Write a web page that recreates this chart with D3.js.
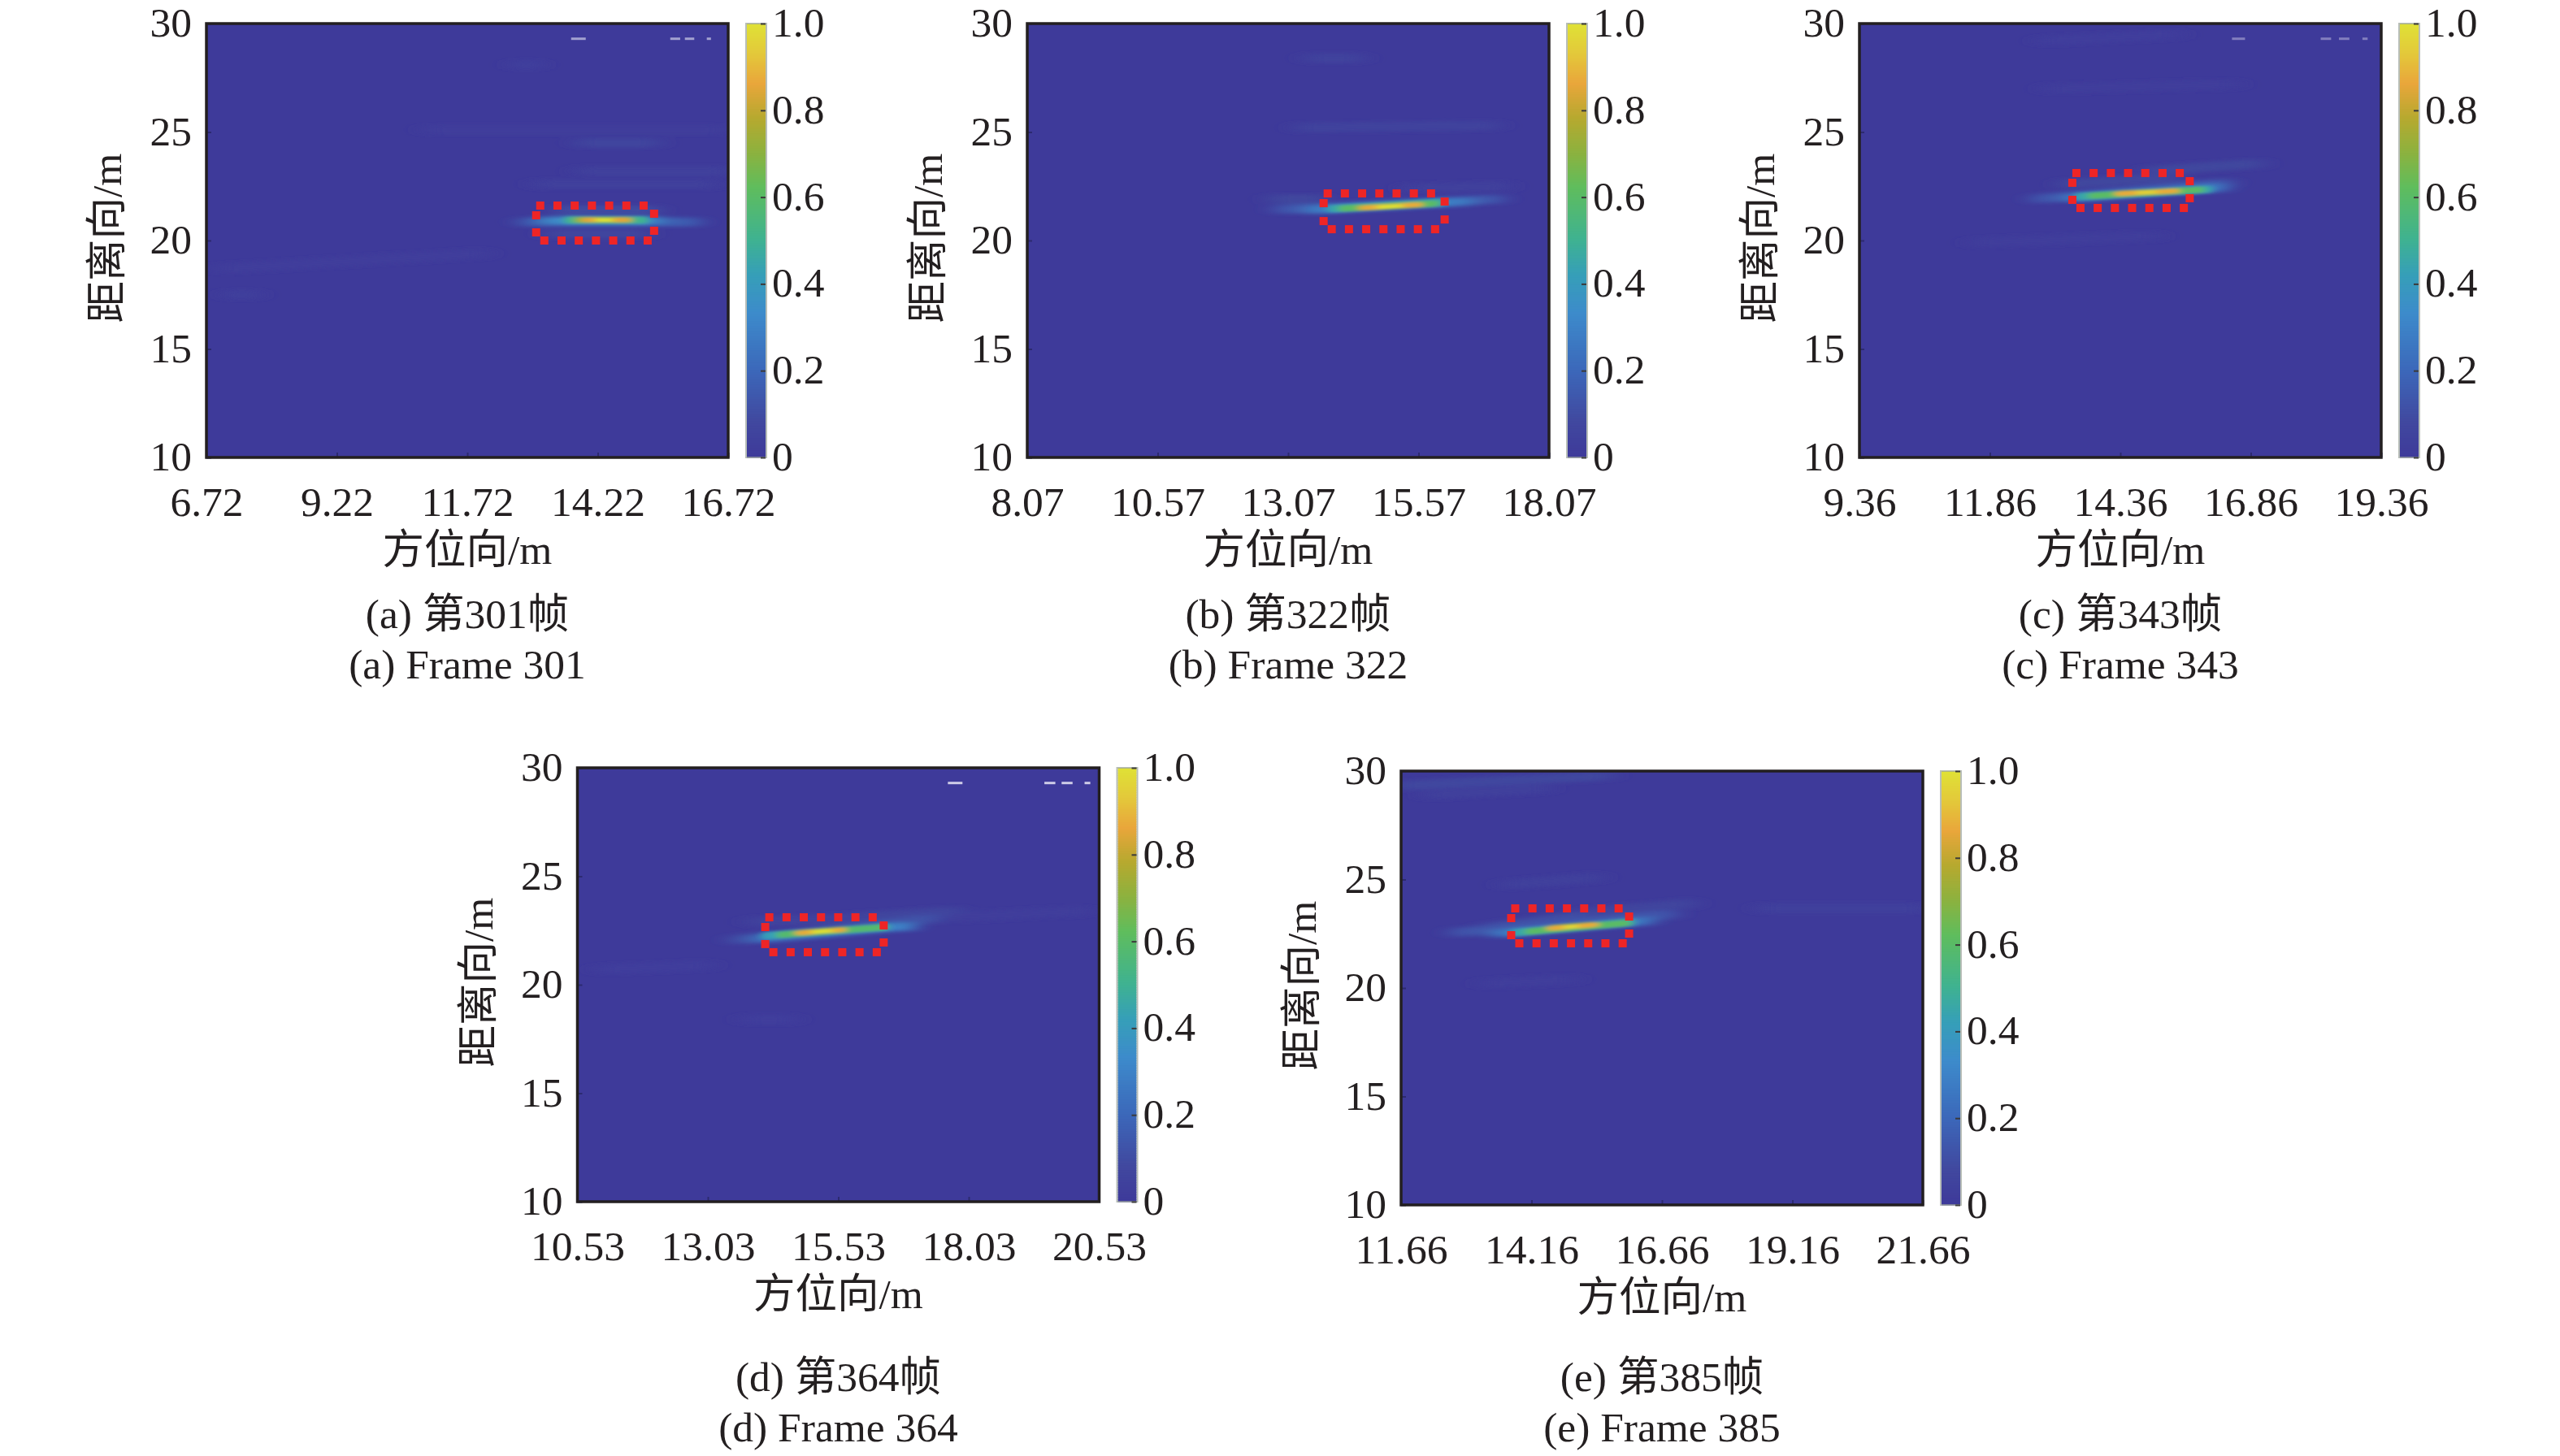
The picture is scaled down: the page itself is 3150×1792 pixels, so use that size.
<!DOCTYPE html>
<html>
<head>
<meta charset="utf-8">
<script src="https://d3js.org/d3.v7.min.js"></script>
<style>
  html, body { margin: 0; background: #fff; }
  text { font-family: "Liberation Serif", "Noto Sans CJK SC", serif; fill: #231f20; }
</style>
</head>
<body>
<div class="map"></div>
<script>
// tick labels of the azimuth axis, one list per frame
const azTicksA = [6.72, 9.22, 11.72, 14.22, 16.72];
const azTicksB = [8.07, 10.57, 13.07, 15.57, 18.07];
const azTicksC = [9.36, 11.86, 14.36, 16.86, 19.36];
const azTicksD = [10.53, 13.03, 15.53, 18.03, 20.53];
const azTicksE = [11.66, 14.16, 16.66, 19.16, 21.66];
const rangeTicks = [10, 15, 20, 25, 30];
const colorTicks = [0, 0.2, 0.4, 0.6, 0.8, 1];

const captionsZh = ["(a) 第301帧", "(b) 第322帧", "(c) 第343帧", "(d) 第364帧", "(e) 第385帧"];
const captionsEn = ["(a) Frame 301", "(b) Frame 322", "(c) Frame 343", "(d) Frame 364", "(e) Frame 385"];

// intensity streaks: [az0, range0, az1, range1, value]
// painted in order, weak ones first
const streaksA = [
  [12.7, 28.1, 13.0, 28.1, 0.04], [13.9, 24.5, 15.3, 24.5, 0.06], [11, 25.1, 16.6, 25.1, 0.02],
  [13.9, 23.2, 16.65, 23.2, 0.035], [13.1, 22.6, 16.4, 22.6, 0.03], [7, 18.7, 12, 19.4, 0.015], [7.2, 17.5, 7.6, 17.5, 0.03],
  [13.5, 21.4, 15.3, 21.4, 0.09], [13.3, 20.3, 15.1, 20.3, 0.06],
  [12.8, 20.85, 16.1, 20.85, 0.16], [13.25, 20.92, 15.33, 20.92, 0.34],
  [13.64, 20.94, 15.12, 20.94, 0.5], [13.82, 20.95, 14.84, 20.95, 0.7],
  [13.95, 20.95, 14.2, 20.95, 0.85], [14.2, 20.95, 14.55, 20.95, 1], [14.55, 20.95, 14.8, 20.95, 0.85]
];
const streaksB = [
  [13.5, 28.4, 14.4, 28.4, 0.045], [13.3, 25.2, 17, 25.3, 0.05], [12.8, 21.9, 13.7, 21.9, 0.07],
  [15.4, 22.4, 17.2, 22.5, 0.03],
  [12.9, 21.42, 17.1, 21.91, 0.14], [13.5, 21.4, 16.5, 21.8, 0.28],
  [13.89, 21.46, 16.01, 21.76, 0.45], [14.1, 21.47, 15.9, 21.7, 0.6],
  [14.45, 21.5, 15.6, 21.65, 0.78], [14.5, 21.5, 14.9, 21.55, 0.87],
  [14.8, 21.54, 15.4, 21.62, 1], [15.3, 21.62, 15.6, 21.65, 0.87]
];
const streaksC = [
  [12.9, 29.2, 15.4, 29.5, 0.025], [13, 27, 16.5, 27.2, 0.015], [11.6, 19.9, 15, 20.2, 0.02],
  [14.9, 23.2, 17, 23.55, 0.07], [13.3, 22.6, 15.4, 22.9, 0.07],
  [12.75, 21.91, 16.4, 22.66, 0.14], [13.4, 21.95, 16.3, 22.45, 0.28],
  [13.56, 22.02, 16.06, 22.36, 0.45], [13.8, 22.06, 15.9, 22.34, 0.6],
  [14.34, 22.17, 15.44, 22.28, 0.78], [14.3, 22.15, 14.7, 22.2, 0.87],
  [14.7, 22.2, 15.1, 22.25, 0.95], [15.1, 22.25, 15.44, 22.3, 0.87]
];
const streaksD = [
  [13.8, 18.4, 14.6, 18.4, 0.025], [11, 20.7, 13, 20.9, 0.025], [17.6, 23.1, 20.2, 23.4, 0.02],
  [15.8, 23.1, 17.8, 23.4, 0.06], [13.9, 22.9, 16.1, 23.1, 0.05],
  [13.55, 22.06, 17.35, 23.07, 0.12], [14, 22.1, 16.8, 22.7, 0.24],
  [14.12, 22.25, 16.46, 22.66, 0.42], [14.4, 22.3, 16.4, 22.65, 0.58],
  [14.79, 22.4, 15.63, 22.55, 0.75], [14.75, 22.38, 15.05, 22.43, 0.87],
  [15.05, 22.43, 15.45, 22.5, 1], [15.45, 22.5, 15.63, 22.54, 0.87],
  [16.6, 22.66, 16.9, 22.68, 0.32]
];
const streaksE = [
  [11.66, 29.33, 15.6, 29.78, 0.075], [12.2, 28.9, 14.4, 29.2, 0.03], [13.7, 24.76, 15.4, 25.1, 0.035],
  [18.6, 23.67, 21.6, 23.67, 0.03], [13.3, 20.2, 14.9, 20.4, 0.015],
  [13.3, 22.77, 15.5, 23.48, 0.1], [15.3, 23.5, 17.2, 23.9, 0.06],
  [12.7, 22.55, 16.85, 23.41, 0.13], [13.5, 22.5, 16.4, 23.1, 0.27],
  [13.83, 22.55, 16.08, 23.03, 0.45], [14.1, 22.6, 16, 23, 0.6],
  [14.52, 22.77, 15.35, 22.92, 0.78], [14.5, 22.75, 14.8, 22.8, 0.87],
  [14.8, 22.8, 15.1, 22.86, 0.97], [15.1, 22.86, 15.4, 22.93, 0.87]
];

// red dotted target box: [az left, az right, range bottom, range top]
const boxA = [13.04, 15.30, 20.0, 21.61];
const boxB = [13.75, 16.07, 20.52, 22.17];
const boxC = [13.44, 15.69, 21.5, 23.11];
const boxD = [14.13, 16.4, 21.5, 23.11];
const boxE = [13.77, 16.03, 22.06, 23.67];

// white leftovers of a covered title near the top edge: [az0, az1]
const marksA = [[13.71, 13.99], [15.61, 15.8], [15.89, 16.07], [16.31, 16.39]];
const marksB = [];
const marksC = [[16.5, 16.75], [18.2, 18.4], [18.55, 18.75], [19.0, 19.1]];
const marksD = [[17.63, 17.91], [19.48, 19.69], [19.81, 20.02], [20.25, 20.36]];
const marksE = [];
const marksOpacity = [0.6, 0, 0.4, 0.85, 0];

// colour map of the colour bar
const colorStops = [0, 0.08, 0.2, 0.33, 0.42, 0.5, 0.62, 0.7, 0.78, 0.86, 0.93, 1];
const colorValues = ["#3e3a9a", "#41489f", "#3c68ba", "#3d8bcb", "#369fb8", "#3fb291",
                     "#5fbd5d", "#8cb23f", "#b6a92f", "#e9a63b", "#e3c93a", "#dfe236"];

// pixel frames of the five plots
const left = [254, 1264, 2288, 710.5, 1724];
const top_ = [29, 29, 29, 945, 949];
const plotW = 642;
const plotH = 534;
const captionY = [[773, 835], [773, 835], [773, 835], [1712, 1774], [1712, 1774]];

const azTicks = [azTicksA, azTicksB, azTicksC, azTicksD, azTicksE];
const streaks = [streaksA, streaksB, streaksC, streaksD, streaksE];
const boxes = [boxA, boxB, boxC, boxD, boxE];
const marks = [marksA, marksB, marksC, marksD, marksE];

const frameColor = "#231f20";
const tickColor = "#2c2a70";
const boxRed = "#ee2526";
const fontSize = "51.5px";

const svg = d3.select(".map")
    .append("svg")
    .attr("width", 3150)
    .attr("height", 1792)
    .style("display", "block");

const colScale = d3.scaleLinear().domain(colorStops).range(colorValues).clamp(true);
const widthScale = d3.scaleLinear().domain([0, 0.3, 0.6, 1]).range([12, 10, 8, 4.5]);

const defs = svg.append("defs");

// weak streaks get smeared more along the azimuth than the bright core
function addSmear(id, dev) {
  defs.append("filter")
      .attr("id", id)
      .attr("filterUnits", "userSpaceOnUse")
      .attr("x", 0).attr("y", 0).attr("width", 3150).attr("height", 1792)
      .append("feGaussianBlur")
      .attr("stdDeviation", dev);
}
addSmear("smearWide", "13 2.2");
addSmear("smearCore", "5 1.4");

function drawStreaks(parent, rows, filterId, x, y) {
  parent.append("g")
      .attr("filter", "url(#" + filterId + ")")
      .selectAll("line")
      .data(rows)
      .enter()
      .append("line")
      .attr("x1", d => x(d[0]))
      .attr("y1", d => y(d[1]))
      .attr("x2", d => x(d[2]))
      .attr("y2", d => y(d[3]))
      .attr("stroke", d => colScale(d[4]))
      .attr("stroke-width", d => widthScale(d[4]))
      .attr("stroke-linecap", "round");
}

d3.range(5).forEach(function(i) {
  const x = d3.scaleLinear().domain([azTicks[i][0], azTicks[i][4]]).range([0, plotW]);
  const y = d3.scaleLinear().domain([10, 30]).range([plotH, 0]);
  const g = svg.append("g").attr("transform", "translate(" + [left[i], top_[i]] + ")");

  defs.append("clipPath").attr("id", "clip" + i)
      .append("rect").attr("width", plotW).attr("height", plotH);

  const plot = g.append("g").attr("clip-path", "url(#clip" + i + ")");
  plot.append("rect")
      .attr("width", plotW)
      .attr("height", plotH)
      .attr("fill", colScale(0));

  drawStreaks(plot, streaks[i].filter(d => d[4] < 0.4), "smearWide", x, y);
  drawStreaks(plot, streaks[i].filter(d => d[4] >= 0.4), "smearCore", x, y);

  plot.selectAll(".mark")
      .data(marks[i])
      .enter()
      .append("rect")
      .attr("class", "mark")
      .attr("x", d => x(d[0]))
      .attr("y", y(29.3) - 1.5)
      .attr("width", d => x(d[1]) - x(d[0]))
      .attr("height", 3)
      .attr("fill", "#e8e6f5")
      .attr("opacity", marksOpacity[i]);

  // red box: seven dots top and bottom, two on each side
  const b = boxes[i];
  const bw = x(b[1]) - x(b[0]);
  const dots = [];
  d3.range(7).forEach(function(k) {
    dots.push([x(b[0]) + 5 + k * 21.2, y(b[3])]);
    dots.push([x(b[0]) + 10 + k * 21.2, y(b[2])]);
  });
  dots.push([x(b[0]), y(b[3]) + 12], [x(b[0]), y(b[2]) - 10]);
  dots.push([x(b[0]) + bw, y(b[3]) + 10], [x(b[0]) + bw, y(b[2]) - 12]);
  g.append("g").selectAll("rect")
      .data(dots)
      .enter()
      .append("rect")
      .attr("x", d => d[0] - 5)
      .attr("y", d => d[1] - 5)
      .attr("width", 10)
      .attr("height", 10)
      .attr("fill", boxRed);

  // axes, ticks point inwards
  const xAxis = d3.axisBottom(x)
      .tickValues(azTicks[i])
      .tickFormat(d3.format(".2f"))
      .tickSize(-6)
      .tickPadding(35);
  const yAxis = d3.axisLeft(y)
      .tickValues(rangeTicks)
      .tickSize(-6)
      .tickPadding(18);

  const gx = g.append("g").attr("transform", "translate(0," + plotH + ")").call(xAxis);
  const gy = g.append("g").call(yAxis);
  [gx, gy].forEach(function(a) {
    a.select(".domain").remove();
    a.selectAll("line").attr("stroke", tickColor).attr("stroke-width", 2);
    a.selectAll("text").style("font-size", fontSize);
    a.attr("font-family", null).attr("font-size", null);
  });
  gy.selectAll("text").attr("dy", "0.31em");

  g.append("rect")
      .attr("width", plotW)
      .attr("height", plotH)
      .attr("fill", "none")
      .attr("stroke", frameColor)
      .attr("stroke-width", 3.5);

  // colour bar
  const cbX = plotW + 23;
  const cbW = 23;
  const c = d3.scaleLinear().domain([0, 1]).range([plotH, 0]);
  const cb = g.append("g").attr("transform", "translate(" + cbX + ",0)");
  cb.selectAll("rect")
      .data(d3.range(0, 1, 1 / 178))
      .enter()
      .append("rect")
      .attr("y", d => c(d) - plotH / 178)
      .attr("width", cbW)
      .attr("height", plotH / 178 + 0.6)
      .attr("fill", d => colScale(d));
  cb.append("rect")
      .attr("x", -1)
      .attr("width", cbW + 2)
      .attr("height", plotH)
      .attr("fill", "none")
      .attr("stroke", "#9aa39a")
      .attr("stroke-opacity", 0.7)
      .attr("stroke-width", 2);

  const cAxis = d3.axisRight(c)
      .tickValues(colorTicks)
      .tickFormat(d => d == 0 ? "0" : d3.format(".1f")(d))
      .tickSize(-6)
      .tickPadding(8);
  const gc = cb.append("g").attr("transform", "translate(" + cbW + ",0)").call(cAxis);
  gc.select(".domain").remove();
  gc.selectAll("line").attr("stroke", "#3b3a3a").attr("stroke-width", 2);
  gc.selectAll("text").style("font-size", fontSize).attr("dy", "0.3em");
  gc.attr("font-family", null).attr("font-size", null);

  // titles
  g.append("text")
      .attr("x", plotW / 2)
      .attr("y", plotH + 131)
      .attr("text-anchor", "middle")
      .style("font-size", fontSize)
      .text("方位向/m");
  g.append("text")
      .attr("transform", "translate(-105," + (plotH / 2 - 3) + ") rotate(-90)")
      .attr("text-anchor", "middle")
      .style("font-size", fontSize)
      .text("距离向/m");

  svg.append("text")
      .attr("x", left[i] + plotW / 2)
      .attr("y", captionY[i][0])
      .attr("text-anchor", "middle")
      .style("font-size", fontSize)
      .text(captionsZh[i]);
  svg.append("text")
      .attr("x", left[i] + plotW / 2)
      .attr("y", captionY[i][1])
      .attr("text-anchor", "middle")
      .style("font-size", fontSize)
      .text(captionsEn[i]);
});
</script>
</body>
</html>
